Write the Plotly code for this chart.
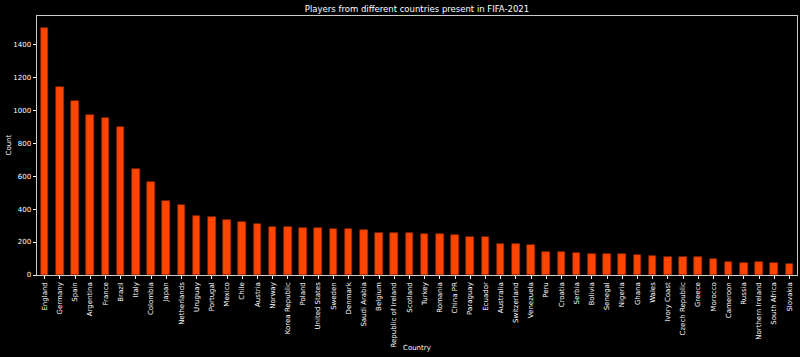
import plotly.graph_objects as go

countries = ["England", "Germany", "Spain", "Argentina", "France", "Brazil", "Italy",
             "Colombia", "Japan", "Netherlands", "Uruguay", "Portugal", "Mexico", "Chile",
             "Austria", "Norway", "Korea Republic", "Poland", "United States", "Sweden",
             "Denmark", "Saudi Arabia", "Belgium", "Republic of Ireland", "Scotland",
             "Turkey", "Romania", "China PR", "Paraguay", "Ecuador", "Australia",
             "Switzerland", "Venezuela", "Peru", "Croatia", "Serbia", "Bolivia", "Senegal",
             "Nigeria", "Ghana", "Wales", "Ivory Coast", "Czech Republic", "Greece",
             "Morocco", "Cameroon", "Russia", "Northern Ireland", "South Africa", "Slovakia"]
counts = [1496, 1140, 1054, 970, 950, 897, 640,
          562, 448, 422, 356, 351, 331, 319,
          307, 293, 291, 285, 285, 279,
          279, 273, 257, 257, 255,
          248, 248, 242, 230, 228, 188,
          188, 182, 141, 141, 133, 127, 127,
          126, 121, 115, 109, 109, 109,
          97, 79, 75, 77, 75, 67]

font_family = "DejaVu Sans"
W, H = 800, 357
L, R, T, B = 37, 3, 16, 82

fig = go.Figure(go.Bar(
    x=list(range(len(countries))),
    y=counts,
    width=0.5,
    marker=dict(color="#FF4500", line=dict(color="#A02800", width=0.6)),
))

fig.update_layout(
    width=W, height=H,
    paper_bgcolor="black", plot_bgcolor="black",
    margin=dict(l=L, r=R, t=T, b=B, autoexpand=False),
    font=dict(family=font_family, size=7, color="white"),
    title=dict(text="Players from different countries present in FIFA-2021",
               x=(L + (W - L - R) / 2) / W, xanchor="center", y=1 - 9 / H, yanchor="middle",
               font=dict(size=8.5, color="white")),
    showlegend=False,
    bargap=0,
    annotations=[
        dict(text="Country", xref="paper", yref="paper", x=0.5, y=-(348 - (H - B)) / (H - T - B),
             xanchor="center", yanchor="middle", showarrow=False,
             font=dict(size=7, color="white")),
        dict(text="Count", xref="paper", yref="paper", x=-(L - 8) / (W - L - R), y=0.5,
             xanchor="center", yanchor="middle", textangle=-90, showarrow=False,
             font=dict(size=7, color="white")),
    ],
)

fig.update_xaxes(
    automargin=False,
    range=[-0.5, len(countries) - 0.5],
    tickmode="array",
    tickvals=list(range(len(countries))),
    ticktext=countries,
    tickangle=-90,
    ticks="outside", ticklen=3.5, tickcolor="white", tickwidth=0.8,
    showgrid=False, zeroline=False,
    showline=True, linecolor="#cccccc", linewidth=0.8, mirror=True,
    tickfont=dict(size=7, color="white"),
)
fig.update_yaxes(
    automargin=False,
    range=[0, 1571],
    tickvals=[0, 200, 400, 600, 800, 1000, 1200, 1400],
    ticks="outside", ticklen=3.5, tickcolor="white", tickwidth=0.8,
    showgrid=False, zeroline=False,
    showline=True, linecolor="#cccccc", linewidth=0.8, mirror=True,
    tickfont=dict(size=7, color="white"),
)

fig.write_html(
    "out.html",
    config={"displayModeBar": False},
    post_script="document.body.style.margin='0';document.body.style.background='black';",
)
